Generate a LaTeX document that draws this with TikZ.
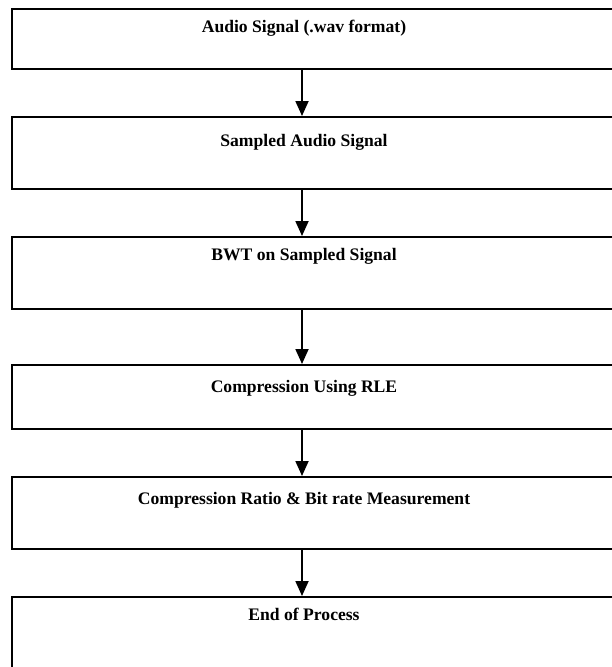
\documentclass[tikz,border=0pt]{standalone}
\usepackage{fontspec}
\setmainfont{Liberation Serif}
\usetikzlibrary{arrows.meta}
\begin{document}
\begin{tikzpicture}[x=1pt,y=-1pt,
  stage/.style={draw=black,line width=1.8pt,rectangle,inner sep=0pt,
    anchor=north west,minimum width=608pt},
  caption/.style={font=\bfseries\fontsize{17.6}{20}\selectfont,inner sep=0pt,anchor=center},
  flow/.style={line width=1.8pt,-{Triangle[width=13pt,length=15pt]}}]
  \useasboundingbox (0,0) rectangle (611,667);

  % process stages (right side runs past the page edge)
  \node[stage,minimum height=60pt] (b1) at (11,8) {};
  \node[stage,minimum height=72pt] (b2) at (11,116) {};
  \node[stage,minimum height=72pt] (b3) at (11,236) {};
  \node[stage,minimum height=64pt] (b4) at (11,364) {};
  \node[stage,minimum height=72pt] (b5) at (11,476) {};
  \node[stage,minimum height=80pt] (b6) at (11,596) {};

  % stage captions
  \node[caption] (t1) at (304,28)  {Audio Signal (.wav format)};
  \node[caption] (t2) at (304,142) {Sampled Audio Signal};
  \node[caption] (t3) at (304,256) {BWT on Sampled Signal};
  \node[caption] (t4) at (304,388) {Compression Using RLE};
  \node[caption] (t5) at (304,500) {Compression Ratio \& Bit rate Measurement};
  \node[caption] (t6) at (304,614) {End of Process};

  % connectors
  \coordinate (ax) at (302,0);
  \draw[flow] (b1.south -| ax) -- (b2.north -| ax);
  \draw[flow] (b2.south -| ax) -- (b3.north -| ax);
  \draw[flow] (b3.south -| ax) -- (b4.north -| ax);
  \draw[flow] (b4.south -| ax) -- (b5.north -| ax);
  \draw[flow] (b5.south -| ax) -- (b6.north -| ax);
\end{tikzpicture}
\end{document}
